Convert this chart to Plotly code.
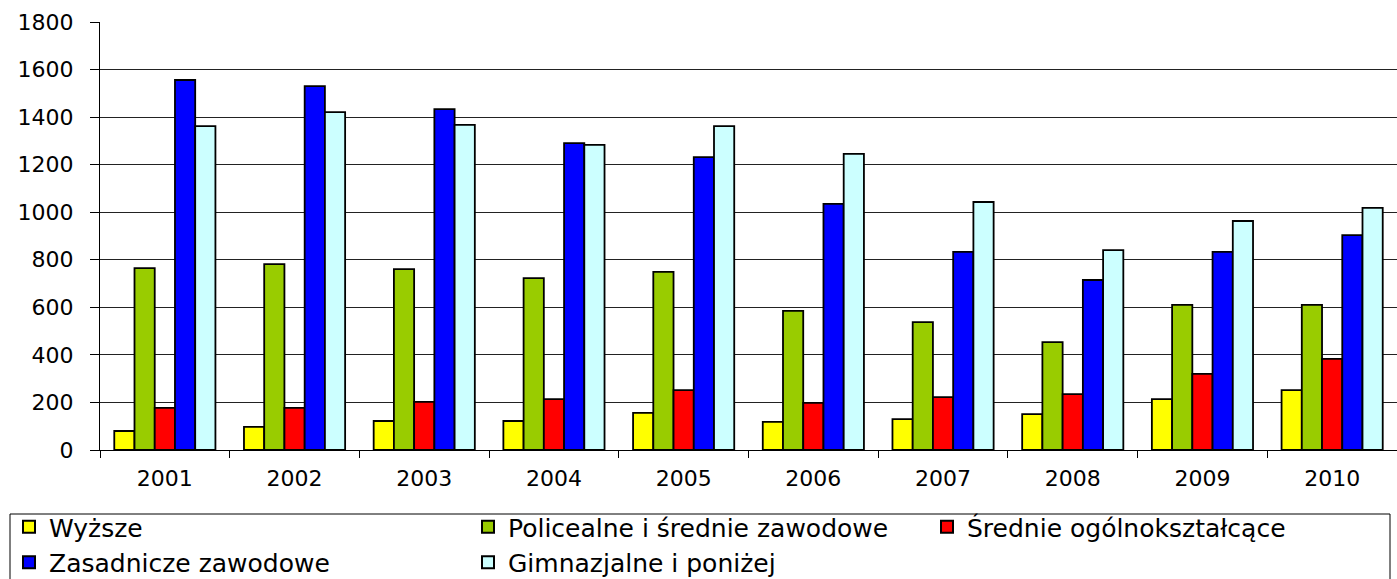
import plotly.graph_objects as go

years = ["2001", "2002", "2003", "2004", "2005", "2006", "2007", "2008", "2009", "2010"]
wyzsze = [80, 97, 122, 122, 156, 118, 130, 151, 214, 252]
policealne = [765, 782, 761, 723, 749, 585, 538, 454, 610, 610]
srednie_ogolne = [177, 177, 202, 214, 252, 198, 222, 235, 320, 383]
zasadnicze = [1556, 1530, 1434, 1291, 1232, 1035, 833, 715, 833, 904]
gimnazjalne = [1362, 1421, 1367, 1283, 1362, 1245, 1043, 841, 963, 1018]

series = [
    ("Wyższe", wyzsze, "#FFFF00", "legend"),
    ("Policealne i średnie zawodowe", policealne, "#99CC00", "legend2"),
    ("Średnie ogólnokształcące", srednie_ogolne, "#FF0000", "legend3"),
    ("Zasadnicze zawodowe", zasadnicze, "#0000FF", "legend"),
    ("Gimnazjalne i poniżej", gimnazjalne, "#CCFFFF", "legend2"),
]

FONT = "DejaVu Sans"
W, H = 1397, 579
L, R, T, B = 100, 0, 22, 129
pw = W - L - R
ph = H - T - B

fig = go.Figure()
for name, vals, col, lg in series:
    fig.add_trace(go.Bar(
        x=years, y=vals, name=name, legend=lg, legendgroup=name,
        marker=dict(color=col, line=dict(color="black", width=1.8)),
    ))

def px_x(p):
    return (p - L) / pw

def px_y(p):
    return (H - B - p) / ph

leg_common = dict(
    orientation="v", xanchor="left", yanchor="top",
    bgcolor="rgba(0,0,0,0)", borderwidth=0,
    font=dict(family=FONT, size=25, color="black"),
    tracegroupgap=0, itemsizing="constant",
)

fig.update_layout(
    width=W, height=H,
    margin=dict(l=L, r=R, t=T, b=B, autoexpand=False),
    paper_bgcolor="white", plot_bgcolor="white",
    barmode="group", bargap=0.22, bargroupgap=0,
    font=dict(family=FONT, size=22, color="black"),
    showlegend=True,
    legend=dict(x=px_x(9), y=px_y(504), **leg_common),
    legend2=dict(x=px_x(468), y=px_y(504), **leg_common),
    legend3=dict(x=px_x(927), y=px_y(504), **leg_common),
    xaxis=dict(
        showline=True, linecolor="black", linewidth=1,
        ticks="outside", tickson="boundaries", ticklen=7, tickcolor="black",
        showgrid=False, ticklabelstandoff=9,
        tickfont=dict(family=FONT, size=22, color="black"),
    ),
    yaxis=dict(
        range=[0, 1800], dtick=200, tick0=0,
        showline=True, linecolor="black", linewidth=1,
        ticks="outside", ticklen=9, tickcolor="black",
        showgrid=True, gridcolor="#222222", gridwidth=1,
        zeroline=False, ticklabelstandoff=12,
        tickfont=dict(family=FONT, size=22, color="black"),
    ),
    shapes=[dict(
        type="rect", xref="paper", yref="paper",
        x0=px_x(10), x1=px_x(1390), y0=px_y(514), y1=px_y(600),
        line=dict(color="black", width=1), fillcolor="rgba(0,0,0,0)",
    )],
)

fig.write_html(
    "out.html",
    config={"displayModeBar": False},
    post_script="document.body.style.margin='0px';document.body.style.overflow='hidden';",
)
